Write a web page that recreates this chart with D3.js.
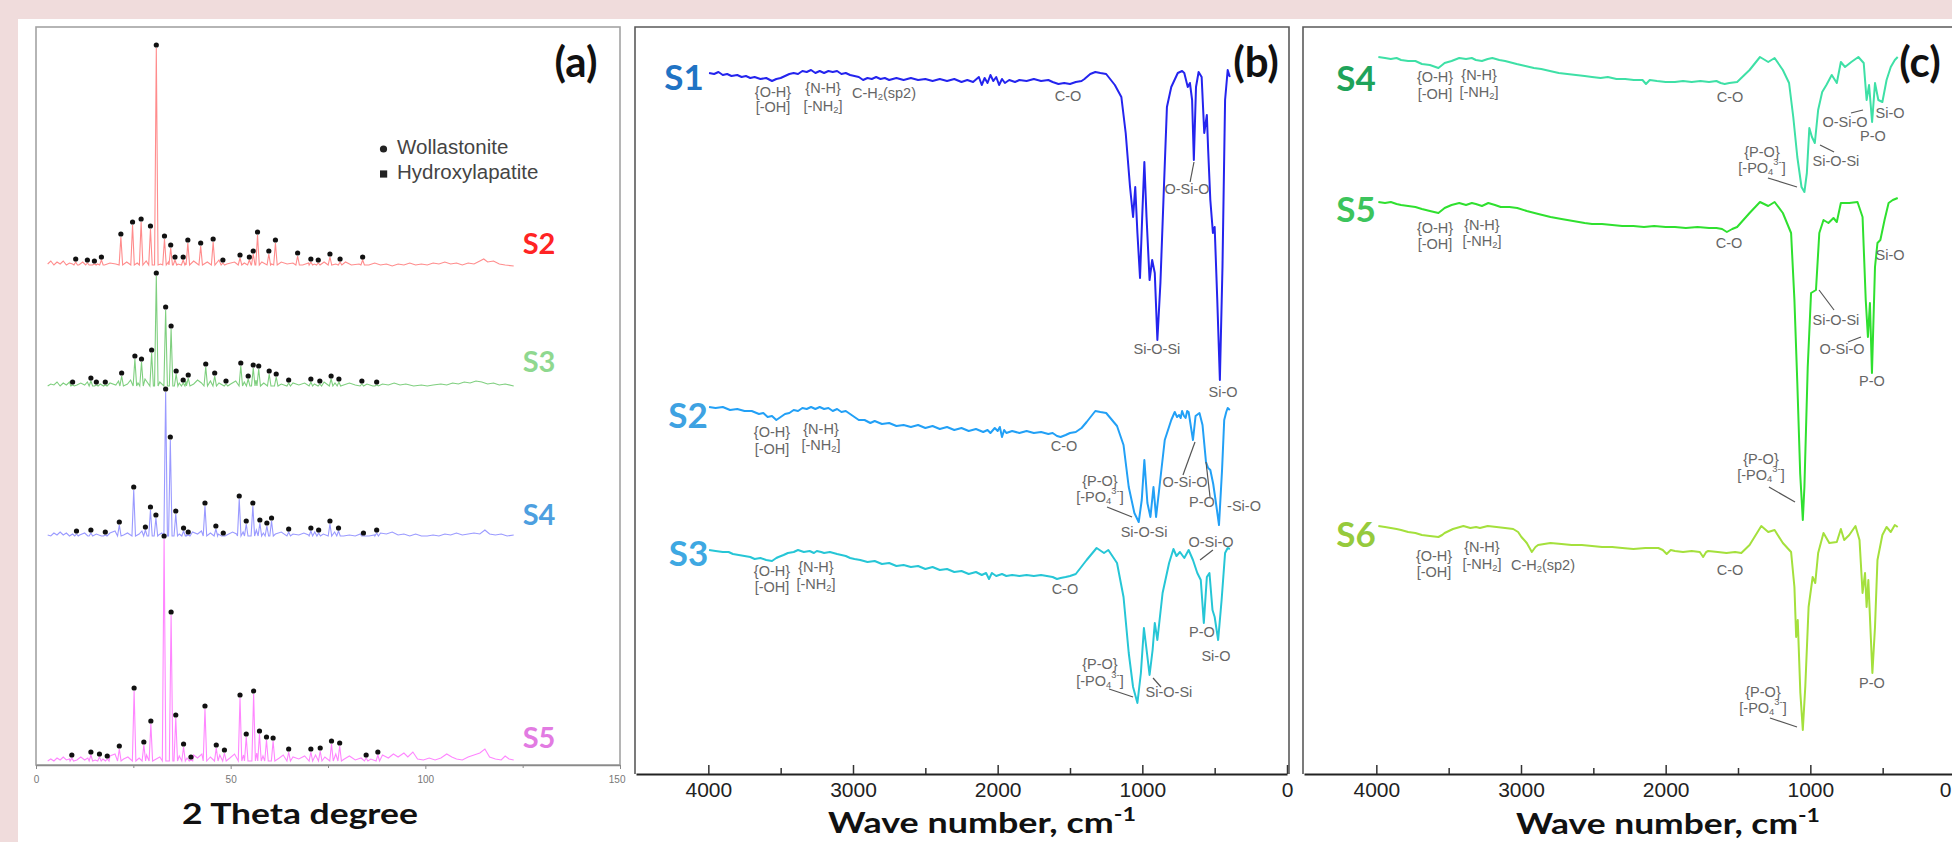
<!DOCTYPE html>
<html><head><meta charset="utf-8">
<script src="https://cdn.jsdelivr.net/npm/d3@7"></script>
<style>html,body{margin:0;padding:0;background:#f0dcdc;}svg{display:block}</style>
</head><body><svg id="c" width="1952" height="842"></svg>
<script>
// ---------------- DATA ----------------
// (a) XRD: 2-theta (deg) vs intensity (a.u.), stacked with offsets
const xrdSamples = ["S2", "S3", "S4", "S5"];
const xrdOffsets = [498, 377, 227, 2];
const xrdTicks = [0, 50, 100, 150];
const xrdMinorTicks = [25, 75, 125];
const legendItems = ["Wollastonite", "Hydroxylapatite"];

const xrdPeaksS2 = [[10.2,5],[13.2,4],[15.0,3],[16.8,7],[21.8,30],[24.8,42],[27.0,45],[29.4,38],[30.9,219],[33.0,28],[34.6,19],[35.7,7],[37.8,7],[39.0,24],[42.3,21],[45.5,25],[48.0,4],[52.4,9],[54.8,7],[55.8,13],[56.9,32],[59.8,13],[61.5,24],[67.2,11],[70.6,5],[72.5,4],[75.5,10],[78.1,5],[83.9,7]];
const xrdPeaksS3 = [[9.4,3],[14.1,7],[15.5,3],[17.8,3],[22.0,12],[25.4,29],[27.1,26],[29.7,35],[30.9,112],[33.3,78],[34.7,59],[36.0,14],[37.8,5],[39.1,10],[43.6,21],[45.9,12],[48.8,4],[52.6,22],[54.5,9],[55.8,20],[57.2,19],[59.9,14],[61.7,11],[64.9,5],[70.6,6],[72.9,4],[75.8,9],[77.8,6],[83.7,4],[87.5,3]];
const xrdPeaksS4 = [[10.4,4],[14.1,5],[17.8,3],[21.4,13],[25.1,48],[28.1,8],[29.4,28],[30.8,20],[33.3,146],[34.5,98],[35.9,24],[37.9,7],[39.1,3],[43.4,32],[46.2,9],[48.1,2],[52.2,39],[54.0,14],[55.7,32],[57.5,15],[59.3,12],[60.5,17],[64.9,6],[70.6,7],[72.6,5],[75.5,14],[77.7,7],[84.1,2],[87.5,5]];
const xrdPeaksS5 = [[9.2,5],[14.1,8],[16.3,6],[18.3,4],[21.4,14],[25.2,72],[27.7,18],[29.5,39],[32.9,224],[34.7,148],[35.9,45],[37.9,16],[39.8,3],[43.4,54],[46.3,15],[48.4,10],[52.4,65],[54.0,26],[55.9,69],[57.4,29],[59.2,23],[60.9,22],[64.9,11],[70.6,11],[73.0,12],[75.9,19],[78.0,17],[84.8,5],[87.8,8]];

const xrdBgS2 = [[3,3],[3.8,6],[4.6,2],[5.4,5],[6.2,3],[7,6],[7.8,2],[8.6,4],[9.4,3],[11,2],[12,5],[13.8,2],[15.8,3],[17.6,2],[19,4],[20.5,3],[23.3,5],[26,4],[28.3,6],[32,3],[34,5],[36.5,3],[38.5,4],[40.5,6],[41.5,3],[44,5],[47,7],[49,3],[51,5],[53.5,4],[58,5],[60.5,3],[63,5],[64.5,3],[66,4],[68.5,2],[70,4],[71.5,3],[74,5],[77,3],[79.5,5],[81,2],[83,3],[85.5,2],[87,4],[88.5,2],[90,3],[91.5,1],[93,3],[94.5,2],[96,4],[97.5,2],[99,3],[100.5,2],[102,4],[103.5,3],[105,5],[106.5,3],[108,4],[109.5,2],[111,4],[112.5,3],[114,6],[115,8],[116,5],[117.5,6],[119,3],[120.5,2],[122.7,1]];
const xrdBgS3 = [[3,2],[3.8,4],[4.6,3],[5.4,6],[6.2,2],[7,5],[7.8,3],[8.6,6],[10.5,3],[11.5,5],[12.5,3],[13.2,6],[16.5,4],[19,5],[20.5,3],[21.2,7],[23.5,4],[24.3,8],[26.2,5],[28,9],[31.8,6],[36.8,5],[38.5,7],[40.5,4],[41.5,8],[42.5,5],[44.8,7],[47,5],[50,4],[51.3,7],[53.5,6],[56.5,8],[58.5,5],[63,4],[66,5],[67.5,3],[69,5],[71.5,4],[74,6],[76.8,5],[79,3],[80.5,5],[82,3],[85,4],[86.5,2],[89,4],[90.5,3],[92,5],[93.5,3],[95,4],[97,2],[99,3],[100.5,2],[102,3],[104,4],[105.5,3],[107,5],[108.5,4],[110,6],[111.5,5],[113,7],[114.5,6],[116,4],[117.5,5],[119,3],[120.5,4],[122.7,2]];
const xrdBgS4 = [[3,3],[3.8,2],[4.6,5],[5.4,3],[6.2,6],[7,3],[7.8,5],[8.6,2],[9.4,4],[11.2,3],[12.5,5],[13.3,2],[15.5,4],[16.8,2],[19,5],[20.3,7],[22.5,3],[23.5,5],[26.5,4],[27.2,7],[31.5,3],[32.3,5],[36.8,4],[38.6,3],[40.2,6],[41.5,4],[42.5,7],[44.8,5],[46.8,4],[49,3],[50.5,6],[51.5,4],[53.2,6],[56.6,8],[58.4,5],[61.5,4],[63,6],[66,4],[67.5,3],[68.8,5],[70,3],[71.6,6],[73.8,4],[76.7,6],[79,2],[80.5,3],[82,2],[83.3,4],[85.5,2],[87,3],[88.5,5],[90,4],[91.5,6],[93,3],[94.5,4],[96,2],[97.5,4],[99,2],[100.5,2],[102,3],[103.5,2],[105,4],[106.5,3],[108,5],[109.5,3],[111,4],[112.5,5],[114,4],[115.3,8],[116.5,4],[118,3],[119.5,4],[121,2],[122.7,3]];
const xrdBgS5 = [[3,2],[3.8,4],[4.6,2],[5.4,5],[6.2,3],[7,6],[7.8,3],[8.6,4],[10.5,3],[11.5,6],[12.5,3],[13.3,5],[15.2,3],[17.2,4],[19,7],[20.3,9],[22.5,4],[23.6,6],[26.5,5],[28.4,8],[31.8,6],[36.8,7],[38.8,5],[40.5,8],[41.5,5],[42.6,9],[44.8,6],[47.2,8],[49.8,5],[51,9],[53.3,8],[56.7,10],[58.3,7],[62.5,5],[63.5,8],[66,6],[67.5,4],[69,7],[71.8,8],[74.2,6],[77,9],[79.2,4],[80.5,7],[82,3],[83.5,5],[86,4],[89,8],[90.5,5],[91.8,9],[93,6],[94.5,10],[95.5,6],[96.8,11],[98,4],[99.5,3],[101,5],[102.5,3],[104,5],[105.5,9],[106.8,6],[108,4],[109.5,3],[111,6],[112.5,8],[114,10],[115.3,14],[116.5,6],[118,4],[119.5,3],[120.5,7],[121.5,4],[122.7,3]];

// (b),(c) FTIR: wavenumber (cm-1) vs transmittance (a.u., stacked)
const ftirTicks = [4000, 3000, 2000, 1000, 0];
const ftirMinorTicks = [3500, 2500, 1500, 500];
const ftirS1 = [[3995,701],[3960,700],[3930,702],[3900,699],[3870,700],[3840,698],[3800,699],[3770,697],[3740,698],[3710,696],[3680,697],[3640,695],[3600,696],[3560,693],[3530,695],[3500,696],[3470,698],[3440,700],[3410,701],[3380,700],[3350,703],[3320,702],[3290,704],[3260,701],[3230,703],[3200,701],[3170,703],[3140,702],[3110,703],[3080,700],[3050,701],[3020,699],[2990,698],[2960,697],[2930,694],[2900,696],[2870,695],[2840,697],[2810,695],[2780,696],[2750,694],[2700,696],[2650,694],[2600,696],[2550,694],[2500,695],[2450,693],[2400,695],[2350,693],[2300,695],[2250,692],[2210,694],[2170,692],[2130,697],[2110,689],[2090,696],[2070,691],[2050,699],[2030,693],[2010,697],[1990,689],[1970,695],[1950,691],[1920,694],[1880,692],[1850,694],[1800,693],[1750,695],[1700,693],[1650,694],[1620,692],[1580,690],[1540,691],[1500,690],[1460,692],[1420,693],[1400,695],[1360,700],[1325,702],[1290,701],[1250,700],[1190,689],[1145,677],[1115,641],[1085,587],[1064,557],[1049,587],[1034,541],[1016,496],[1001,557],[986,612],[971,557],[950,494],[932,514],[914,501],[896,434],[875,491],[854,574],[830,667],[800,687],[755,701],[725,703],[710,701],[686,687],[671,691],[656,674],[644,614],[629,687],[611,702],[590,697],[572,641],[554,659],[545,624],[530,574],[512,541],[500,547],[482,474],[464,394],[446,507],[428,674],[410,704],[395,697]];
const ftirS2 = [[3995,367],[3950,366],[3900,367],[3850,364],[3800,365],[3750,363],[3700,363],[3650,360],[3620,361],[3590,357],[3560,358],[3530,354],[3500,357],[3470,360],[3440,361],[3410,364],[3380,363],[3350,366],[3320,365],[3290,367],[3260,365],[3230,367],[3200,365],[3170,366],[3140,363],[3110,365],[3080,362],[3050,363],[3010,359],[2980,356],[2960,354],[2920,354],[2880,351],[2850,353],[2800,350],[2750,351],[2700,348],[2650,349],[2600,347],[2550,349],[2500,346],[2450,348],[2400,345],[2350,347],[2300,344],[2250,346],[2200,343],[2150,345],[2100,342],[2070,344],[2050,341],[2020,346],[2000,343],[1985,347],[1970,337],[1955,344],[1940,341],[1900,343],[1850,341],[1800,343],[1750,341],[1700,342],[1650,340],[1620,341],[1590,338],[1565,337],[1530,339],[1500,341],[1460,342],[1420,346],[1385,352],[1325,363],[1290,362],[1250,361],[1175,348],[1130,329],[1094,287],[1055,261],[1025,252],[1004,274],[986,314],[965,271],[944,257],[923,287],[905,257],[884,284],[845,334],[800,354],[776,362],[760,357],[746,359],[735,356],[725,363],[712,358],[701,356],[690,363],[680,362],[650,334],[632,358],[605,361],[584,349],[560,312],[545,306],[530,304],[510,290],[494,274],[470,249],[449,304],[434,354],[420,362],[410,366],[395,364]];
const ftirS3 = [[3995,224],[3950,223],[3900,222],[3860,222],[3830,220],[3790,219],[3750,218],[3710,217],[3680,215],[3640,216],[3600,214],[3560,213],[3530,216],[3515,217],[3480,219],[3450,221],[3410,222],[3380,224],[3340,222],[3300,223],[3270,221],[3250,223],[3220,222],[3200,221],[3160,222],[3110,220],[3080,219],[3050,218],[3020,216],[2990,215],[2950,214],[2900,212],[2850,213],[2800,210],[2750,211],[2700,208],[2650,209],[2600,207],[2550,208],[2500,205],[2450,207],[2400,204],[2350,205],[2300,202],[2250,203],[2200,200],[2150,202],[2110,199],[2080,201],[2060,195],[2040,201],[2010,198],[1970,200],[1940,198],[1900,199],[1850,198],[1800,199],[1750,198],[1700,199],[1660,198],[1620,197],[1590,195],[1565,196],[1530,197],[1500,198],[1460,200],[1385,214],[1316,226],[1265,221],[1235,224],[1175,211],[1130,177],[1094,121],[1064,87],[1034,71],[1010,101],[989,146],[968,121],[950,99],[929,124],[914,151],[896,134],[860,181],[815,211],[785,225],[764,218],[740,222],[710,216],[680,224],[650,214],[620,201],[596,194],[575,151],[554,197],[536,201],[515,164],[500,157],[476,134],[452,174],[428,221],[410,226],[395,225]];
const ftirS4 = [[3986,717],[3940,716],[3900,715],[3860,716],[3829,714],[3780,713],[3730,713],[3685,710],[3630,709],[3571,706],[3545,709],[3528,711],[3480,713],[3427,716],[3380,715],[3340,716],[3312,714],[3270,713],[3230,715],[3198,716],[3150,714],[3110,713],[3083,712],[3030,710],[2970,708],[2911,706],[2860,705],[2800,703],[2739,701],[2680,700],[2620,699],[2560,698],[2509,697],[2450,696],[2400,697],[2340,695],[2280,695],[2220,694],[2160,694],[2136,690],[2110,694],[2060,693],[2000,692],[1936,692],[1880,693],[1820,692],[1760,693],[1700,692],[1649,693],[1620,691],[1592,690],[1560,691],[1506,692],[1420,704],[1348,717],[1291,712],[1247,716],[1190,704],[1147,691],[1118,657],[1090,617],[1061,587],[1041,582],[1024,601],[1007,646],[989,637],[969,631],[946,664],[918,682],[889,689],[852,699],[817,691],[789,712],[760,707],[717,712],[668,717],[631,711],[611,674],[594,689],[573,652],[553,691],[530,674],[502,672],[473,694],[444,707],[416,714],[396,717]];
const ftirS5 = [[3986,572],[3940,571],[3900,572],[3860,570],[3829,569],[3780,568],[3730,567],[3685,565],[3630,563],[3571,561],[3545,564],[3528,566],[3480,569],[3427,571],[3380,569],[3340,571],[3312,570],[3270,568],[3226,571],[3180,569],[3140,567],[3080,567],[3026,566],[2960,563],[2880,560],[2796,557],[2720,555],[2640,553],[2560,551],[2509,550],[2440,550],[2370,549],[2300,548],[2223,548],[2150,547],[2080,548],[2000,547],[1936,547],[1860,546],[1780,547],[1700,546],[1649,546],[1610,545],[1577,542],[1540,545],[1506,547],[1420,561],[1348,572],[1291,568],[1247,572],[1190,561],[1133,541],[1110,474],[1090,391],[1070,300],[1052,254],[1041,287],[1018,407],[995,481],[961,484],[938,541],[909,554],[875,551],[840,556],[817,552],[789,571],[731,571],[674,572],[639,557],[617,474],[602,437],[588,471],[574,401],[553,507],[536,531],[516,534],[487,554],[459,571],[430,574],[396,576]];
const ftirS6 = [[3986,248],[3940,247],[3900,246],[3860,245],[3829,244],[3780,242],[3730,241],[3685,239],[3630,238],[3571,237],[3545,239],[3528,241],[3470,245],[3398,248],[3350,246],[3310,247],[3284,246],[3230,248],[3169,247],[3110,246],[3054,245],[3020,242],[2997,237],[2960,231],[2925,222],[2900,227],[2882,229],[2840,230],[2796,231],[2720,230],[2650,229],[2580,229],[2509,228],[2440,227],[2370,227],[2300,226],[2223,225],[2140,226],[2051,226],[2020,224],[1993,220],[1965,224],[1936,223],[1880,222],[1820,223],[1764,222],[1741,217],[1720,222],[1706,223],[1640,222],[1580,221],[1520,222],[1477,221],[1420,229],[1339,248],[1291,242],[1247,244],[1190,231],[1133,222],[1110,187],[1098,137],[1087,154],[1069,81],[1052,44],[1035,87],[1012,167],[984,197],[966,191],[946,221],[909,241],[869,231],[817,232],[789,245],[766,234],[731,239],[688,248],[660,234],[639,181],[622,201],[611,167],[599,194],[582,137],[571,101],[553,147],[536,214],[502,239],[473,247],[444,242],[416,249],[396,247]];

// band assignments: [wavenumber, transmittance, text]
const annotB = [[3553,681,"{O-H}"],[3553,666,"[-OH]"],[3207,685,"{N-H}"],[3207,667,"[-NH_{2}]"],[2786,680,"C-H_{2}(sp2)"],[1514,677,"C-O"],[691,584,"O-Si-O"],[899,424,"Si-O-Si"],[442,381,"Si-O"],
 [3560,341,"{O-H}"],[3560,324,"[-OH]"],[3221,344,"{N-H}"],[3221,328,"[-NH_{2}]"],[1541,327,"C-O"],[1293,292,"{P-O}"],[1293,276,"[-PO_{4}^{3-}]"],[988,241,"Si-O-Si"],[705,291,"O-Si-O"],[588,271,"P-O"],[297,267,"-Si-O"],
 [3560,202,"{O-H}"],[3560,186,"[-OH]"],[3256,206,"{N-H}"],[3256,189,"[-NH_{2}]"],[1535,184,"C-O"],[525,231,"O-Si-O"],[588,141,"P-O"],[491,117,"Si-O"],[1293,109,"{P-O}"],[1293,92,"[-PO_{4}^{3-}]"],[816,81,"Si-O-Si"]];
const leadersB = [[643,612,670,592],[1244,267,1071,257],[636,332,719,299],[560,312,532,277],[601,214,512,224],[1230,85,1064,77],[926,96,871,87]];
const annotC = [[3594,696,"{O-H}"],[3594,679,"[-OH]"],[3290,698,"{N-H}"],[3290,681,"[-NH_{2}]"],[1555,676,"C-O"],[1334,621,"{P-O}"],[1334,605,"[-PO_{4}^{3-}]"],[823,612,"Si-O-Si"],[760,651,"O-Si-O"],[449,660,"Si-O"],[567,637,"P-O"],
 [3594,545,"{O-H}"],[3594,529,"[-OH]"],[3270,548,"{N-H}"],[3270,532,"[-NH_{2}]"],[1562,530,"C-O"],[823,453,"Si-O-Si"],[781,424,"O-Si-O"],[574,392,"P-O"],[449,518,"Si-O"],[1341,314,"{P-O}"],[1341,298,"[-PO_{4}^{3-}]"],
 [3601,217,"{O-H}"],[3601,201,"[-OH]"],[3270,226,"{N-H}"],[3270,209,"[-NH_{2}]"],[2848,208,"C-H_{2}(sp2)"],[1555,203,"C-O"],[1327,81,"{P-O}"],[1327,65,"[-PO_{4}^{3-}]"],[574,90,"P-O"]];
const leadersC = [[1293,596,1092,587],[933,629,836,622],[719,661,636,664],[940,484,836,464],[740,432,650,437],[1286,287,1106,272],[1279,56,1092,47]];

// ---------------- DRAW ----------------
const svg = d3.select("#c");
svg.append("rect").attr("width",1952).attr("height",842).attr("fill","#f0dcdc");
svg.append("rect").attr("x",18).attr("y",19).attr("width",1934).attr("height",823).attr("fill","#ffffff");

const BOLD = "Lato, 'Open Sans', 'DejaVu Sans', sans-serif";
const ARIAL = "'Liberation Sans', Arial, sans-serif";

function rich(sel, str, fs){
  const parts = str.split(/(_\{[^}]*\}|\^\{[^}]*\})/).filter(p=>p.length);
  let shift = 0;
  parts.forEach(p=>{
    let target = 0, t = p, size = fs;
    if (p.startsWith("_{")) { target = fs*0.3; t = p.slice(2,-1); size = fs*0.65; }
    else if (p.startsWith("^{")) { target = -fs*0.4; t = p.slice(2,-1); size = fs*0.65; }
    sel.append("tspan").attr("dy", target - shift).attr("font-size", size).text(t);
    shift = target;
  });
}
function stretch(sel, cx, targetW){
  const w = sel.node().getComputedTextLength();
  const s = targetW / w;
  sel.attr("transform", `translate(${cx},0) scale(${s},1) translate(${-cx},0)`);
}

// ===== Panel (a) =====
const xa = d3.scaleLinear().domain([0,150]).range([36,620]);
const ya = d3.scaleLinear().domain([0,738]).range([765,27]);
const gA = svg.append("g");
gA.append("rect").attr("x",36).attr("y",27).attr("width",584).attr("height",738)
  .attr("fill","none").attr("stroke","#a3a3a3").attr("stroke-width",1.6);

const xrdPeaks = [xrdPeaksS2, xrdPeaksS3, xrdPeaksS4, xrdPeaksS5];
const xrdBg = [xrdBgS2, xrdBgS3, xrdBgS4, xrdBgS5];
const xrdLineColors = ["#ff8c8c","#7fcf7f","#9a9aff","#ff86ff"];
const xrdLabelColors = ["#ff2424","#8fd88f","#4d9fe0","#e27be2"];
const lineA = d3.line().x(d=>xa(d[0])).y(d=>ya(d[1]));
xrdSamples.forEach((s,i)=>{
  const off = xrdOffsets[i];
  const pts = xrdBg[i].map(d=>[d[0], d[1]]);
  xrdPeaks[i].forEach(p=>{ pts.push([p[0]-0.45, 2],[p[0], p[1]],[p[0]+0.45, 2]); });
  pts.sort((a,b)=>a[0]-b[0]);
  gA.append("path").datum(pts.map(d=>[d[0], d[1]+off]))
    .attr("d", lineA).attr("fill","none").attr("stroke", xrdLineColors[i]).attr("stroke-width",1.1);
  gA.selectAll(null).data(xrdPeaks[i]).join("circle")
    .attr("cx", d=>xa(d[0])).attr("cy", d=>ya(d[1]+off)-3).attr("r",2.6).attr("fill","#111");
  gA.append("text").attr("x", xa(129.2)).attr("y", ya(off + [20,23,20,22][i]))
    .attr("text-anchor","middle").attr("dominant-baseline","middle")
    .attr("font-family",BOLD).attr("font-weight",700).attr("font-size",29)
    .attr("fill", xrdLabelColors[i]).text(s);
});
const axA = gA.append("g").attr("transform","translate(0,765)")
  .call(d3.axisBottom(xa).tickValues(xrdTicks).tickFormat(d3.format("d")).tickSize(4).tickPadding(7).tickSizeOuter(0));
axA.select(".domain").attr("stroke","#8a8a8a").attr("stroke-width",1.6);
axA.selectAll(".tick line").attr("stroke","#8a8a8a");
axA.selectAll(".tick text").attr("font-family",ARIAL).attr("font-size",10).attr("fill","#777");
axA.selectAll(".tick text").filter(d=>d===150).attr("text-anchor","end").attr("dx",5);
gA.append("g").attr("transform","translate(0,765)")
  .call(d3.axisBottom(xa).tickValues(xrdMinorTicks).tickSize(3).tickFormat(""))
  .call(g=>g.select(".domain").remove()).selectAll("line").attr("stroke","#8a8a8a");
// legend
legendItems.forEach((t,i)=>{
  const cy = 149 + i*25;
  if (i===0) gA.append("circle").attr("cx",383.5).attr("cy",cy).attr("r",3.6).attr("fill","#222");
  else gA.append("rect").attr("x",380).attr("y",cy-3.6).attr("width",7.2).attr("height",7.2).attr("fill","#222");
  gA.append("text").attr("x",397).attr("y",cy).attr("dominant-baseline","middle")
    .attr("font-family",ARIAL).attr("font-size",20.5).attr("fill","#444").text(t);
});
gA.append("text").attr("x",576).attr("y",77).attr("text-anchor","middle")
  .attr("font-family",BOLD).attr("font-weight",700).attr("font-size",42).attr("fill","#111").text("(a)");
const tA = gA.append("text").attr("x",300).attr("y",824).attr("text-anchor","middle")
  .attr("font-family",BOLD).attr("font-weight",700).attr("font-size",29).attr("fill","#111").text("2 Theta degree");
stretch(tA, 300, 236);

// ===== Panels (b) and (c) =====
const yf = d3.scaleLinear().domain([0,747]).range([774,27]);
function ftirPanel(cfg){
  const x = d3.scaleLinear().domain([4500,0]).range([cfg.x0, cfg.x0+651]);
  const g = svg.append("g");
  g.append("path").attr("d", `M${cfg.x0-1},774 V27 H${cfg.right} V774`)
    .attr("fill","none").attr("stroke","#5a5a5a").attr("stroke-width",1.6);
  const line = d3.line().x(d=>x(d[0])).y(d=>yf(d[1]));
  cfg.series.forEach(s=>{
    g.append("path").datum(s.data).attr("d", line).attr("fill","none")
      .attr("stroke", s.color).attr("stroke-width",2).attr("stroke-linejoin","round");
    g.append("text").attr("x", x(s.lx)).attr("y", yf(s.ly)).attr("text-anchor","middle")
      .attr("dominant-baseline","middle").attr("font-family",BOLD).attr("font-weight",700)
      .attr("font-size",35).attr("fill", s.lc).text(s.name);
  });
  g.selectAll(null).data(cfg.leaders).join("line")
    .attr("x1",d=>x(d[0])).attr("y1",d=>yf(d[1])).attr("x2",d=>x(d[2])).attr("y2",d=>yf(d[3]))
    .attr("stroke","#555").attr("stroke-width",1.2);
  cfg.annot.forEach(a=>{
    const t = g.append("text").attr("x", x(a[0])).attr("y", yf(a[1])).attr("text-anchor","middle")
      .attr("dominant-baseline","middle").attr("font-family",ARIAL).attr("font-size",14.5).attr("fill","#666");
    rich(t, a[2], 14.5);
  });
  const ax = g.append("g").attr("transform","translate(0,774)")
    .call(d3.axisBottom(x).tickValues(ftirTicks).tickFormat(d3.format("d")).tickSize(-9).tickPadding(8).tickSizeOuter(0));
  ax.select(".domain").attr("stroke","#222").attr("stroke-width",2.2);
  ax.selectAll(".tick line").attr("stroke","#333").attr("stroke-width",1.5);
  ax.selectAll(".tick text").attr("font-family",ARIAL).attr("font-size",21).attr("fill","#222");
  if (cfg.lastEnd) ax.selectAll(".tick text").filter(d=>d===0).attr("text-anchor","end").attr("dx",-4);
  g.append("g").attr("transform","translate(0,774)")
    .call(d3.axisBottom(x).tickValues(ftirMinorTicks).tickSize(-6).tickFormat(""))
    .call(gg=>gg.select(".domain").remove()).selectAll("line").attr("stroke","#333").attr("stroke-width",1.5);
  g.append("text").attr("x", cfg.tagX).attr("y",77).attr("text-anchor","middle")
    .attr("font-family",BOLD).attr("font-weight",700).attr("font-size",42).attr("fill","#111").text(cfg.tag);
  const tt = g.append("text").attr("x", cfg.titleX).attr("y", cfg.titleY).attr("text-anchor","middle")
    .attr("font-family",BOLD).attr("font-weight",700).attr("font-size",29).attr("fill","#111");
  rich(tt, "Wave number,  cm^{-1}", 29);
  stretch(tt, cfg.titleX, cfg.titleW);
}
ftirPanel({x0:636, right:1289, tag:"(b)", tagX:1256, titleX:982, titleY:833, titleW:308,
  series:[
    {name:"S1", data:ftirS1, color:"#2424ee", lc:"#1f73c4", lx:4168, ly:693},
    {name:"S2", data:ftirS2, color:"#22a0f6", lc:"#3ea2e2", lx:4140, ly:355},
    {name:"S3", data:ftirS3, color:"#26c6d6", lc:"#3ea8e2", lx:4137, ly:217}],
  annot:annotB, leaders:leadersB});
ftirPanel({x0:1304, right:1960, tag:"(c)", tagX:1920, titleX:1668, titleY:834, titleW:304, lastEnd:true,
  series:[
    {name:"S4", data:ftirS4, color:"#3ee0a6", lc:"#1ea35a", lx:4140, ly:692},
    {name:"S5", data:ftirS5, color:"#2fe02f", lc:"#3cc45c", lx:4140, ly:561},
    {name:"S6", data:ftirS6, color:"#a4e03c", lc:"#96ca3c", lx:4140, ly:236}],
  annot:annotC, leaders:leadersC});
</script></body></html>
